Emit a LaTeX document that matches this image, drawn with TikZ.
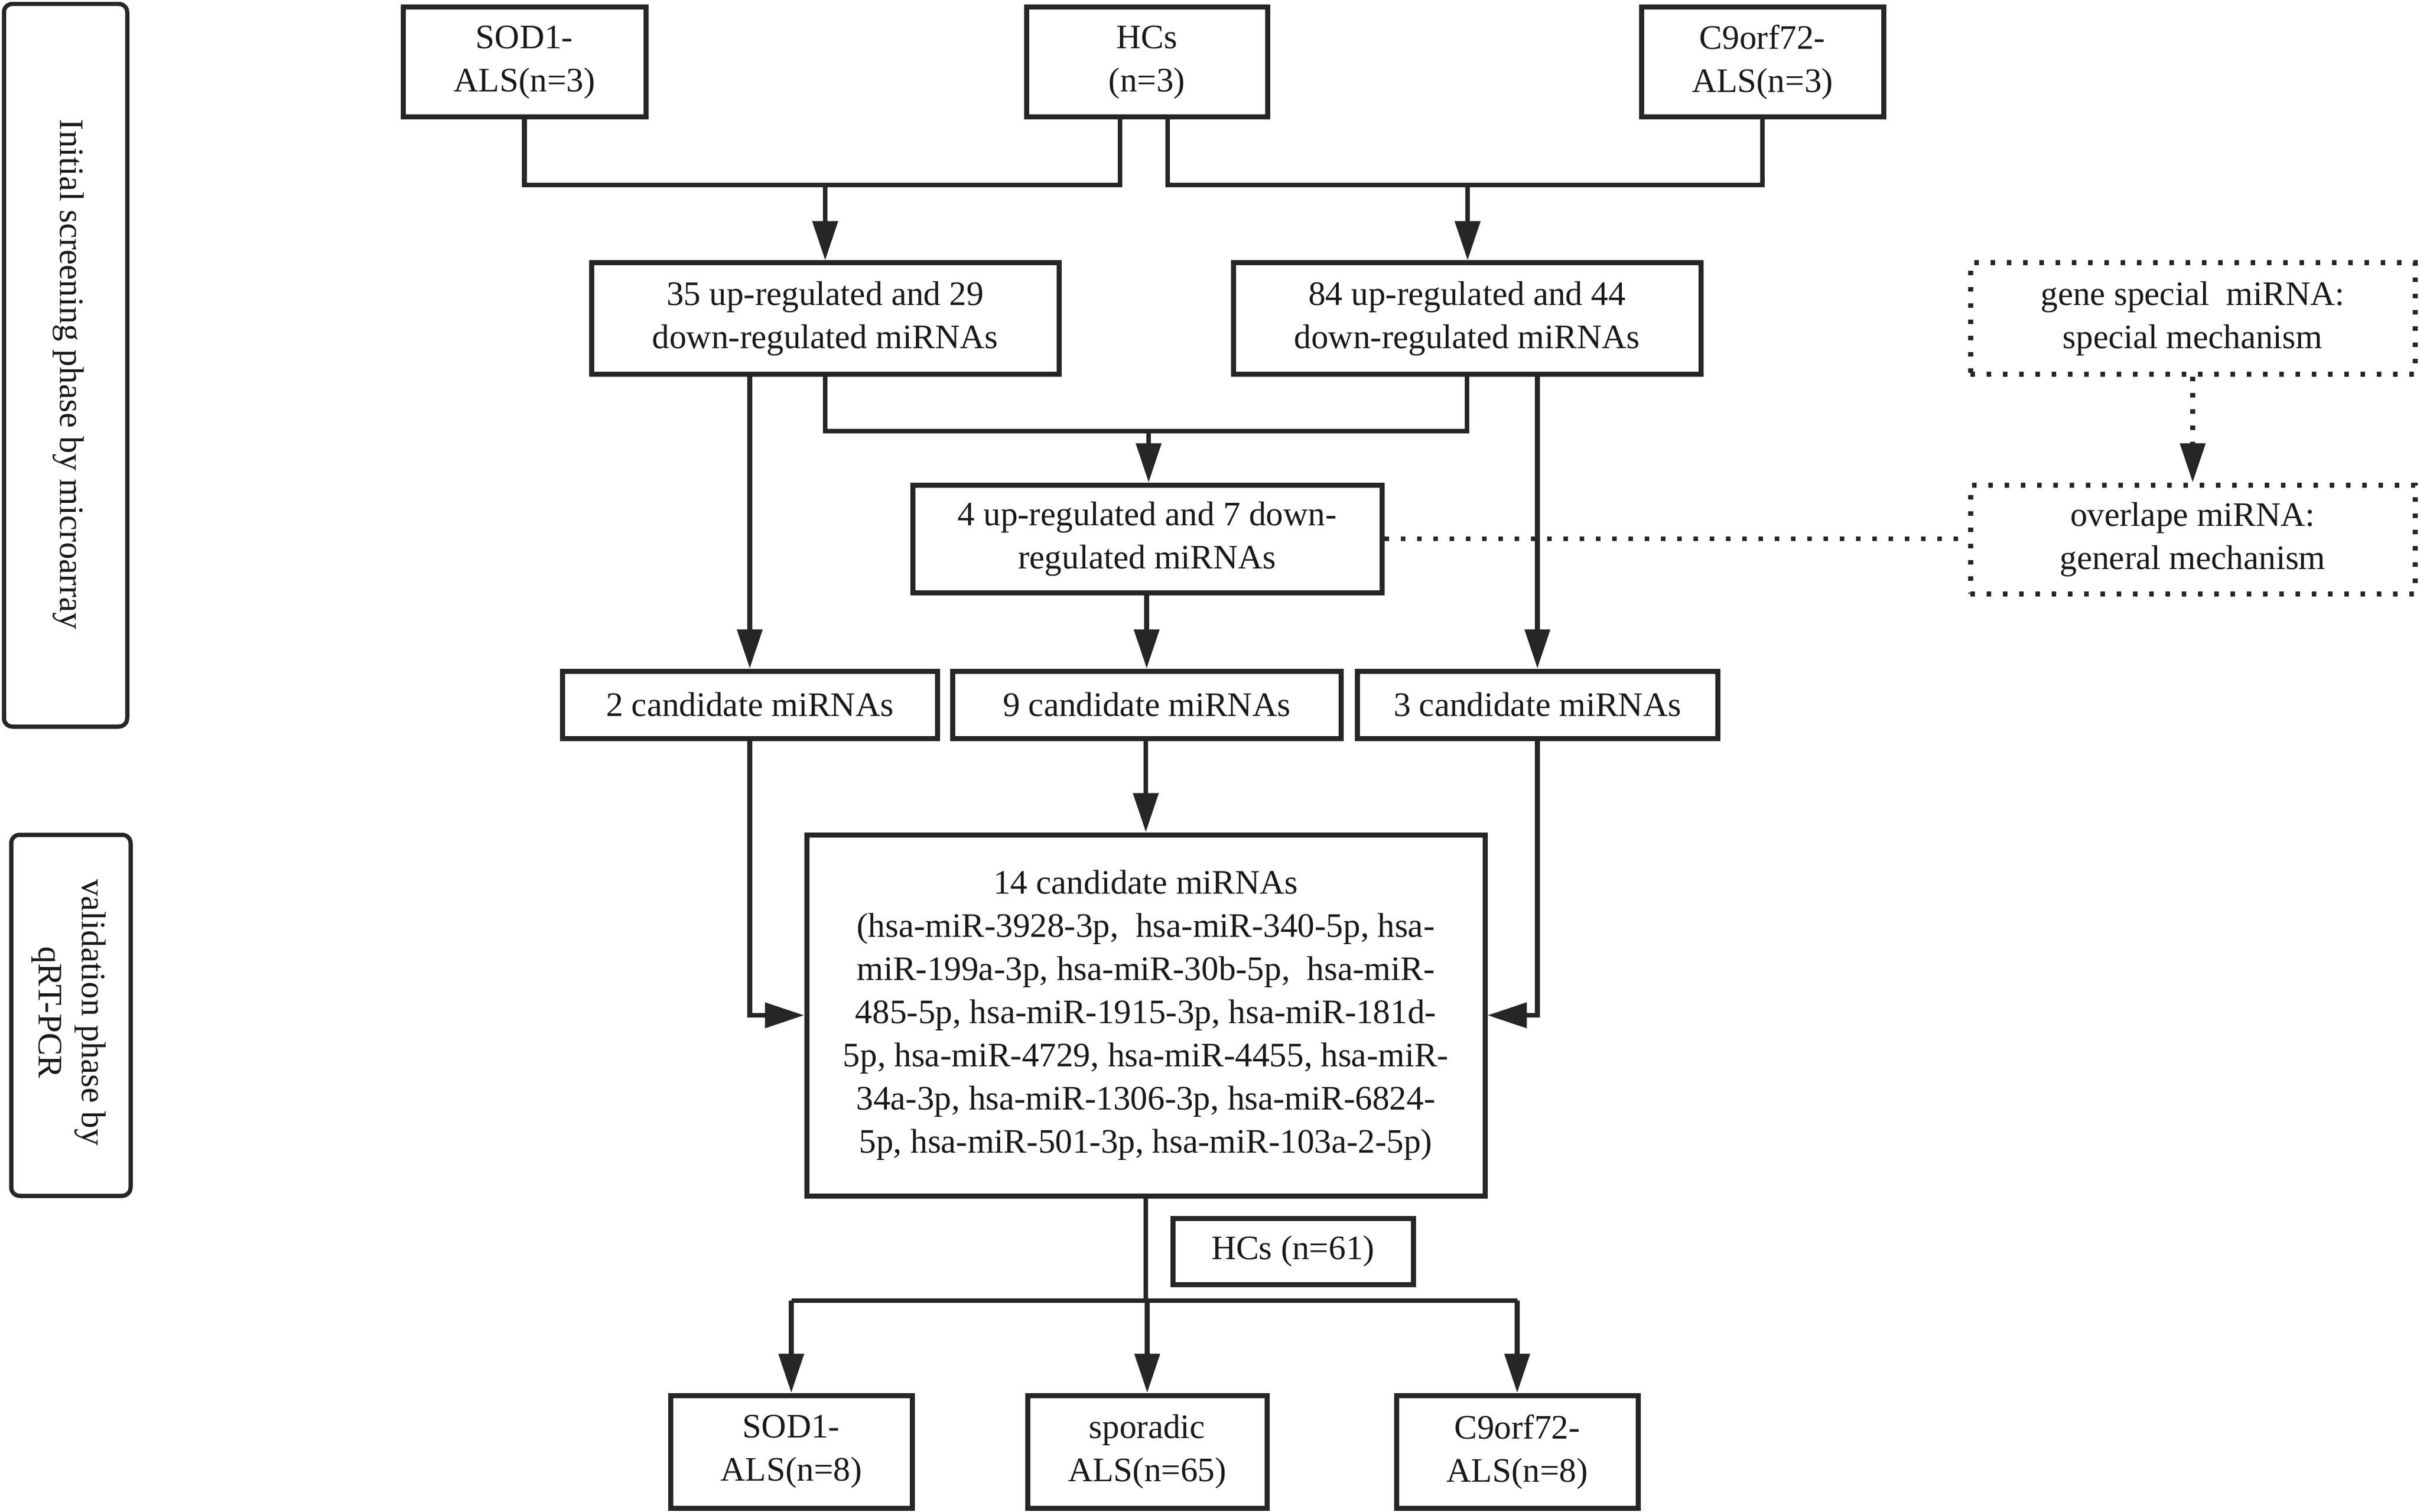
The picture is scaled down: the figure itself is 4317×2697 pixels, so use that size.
\documentclass[tikz,border=0pt]{standalone}
\usepackage{fontspec}
\setmainfont{Liberation Serif}
\usetikzlibrary{arrows.meta,calc}
\begin{document}
\begin{tikzpicture}[x=0.1mm,y=-0.1mm,
  txt/.style={font=\fontsize{17.4}{21.9}\selectfont, text=black!90, align=center},
  box/.style={txt, draw=black!85, line width=0.9mm, inner sep=0pt},
  dotbox/.style={box, dash pattern=on 0.8mm off 2.1mm},
  sidebox/.style={draw=black!85, line width=0.75mm, rounded corners=1.5mm, inner sep=0pt},
  conn/.style={draw=black!85, line width=0.85mm},
  dotconn/.style={conn, dash pattern=on 0.8mm off 2.1mm},
  arr/.style={conn, -{Triangle[length=7mm,width=4.4mm]}},
  dotarr/.style={dotconn, -{Triangle[length=7mm,width=4.4mm]}},
]
\useasboundingbox (0,0) rectangle (4317,2697);

% side labels
\node[sidebox, minimum width=22mm, minimum height=128.9mm] (init) at (117,651.5) {};
\node[txt, rotate=-90] (initT) at (122,668) {Initial screening phase by microarray};
\node[sidebox, minimum width=21.3mm, minimum height=64.4mm] (valid) at (126.5,1811) {};
\node[txt, rotate=-90] (validT) at (123,1806) {validation phase by\\qRT-PCR};

% top row
\node[box, minimum width=43.3mm, minimum height=19.6mm] (sodA) at (935.5,111) {SOD1-\\ALS(n=3)};
\node[box, minimum width=43.0mm, minimum height=19.6mm] (hcA) at (2046,111) {HCs\\(n=3)};
\node[box, minimum width=43.2mm, minimum height=19.6mm] (c9A) at (3144,111) {C9orf72-\\ALS(n=3)};

% second row
\node[box, minimum width=83.4mm, minimum height=19.8mm] (up35) at (1472,568) {35 up-regulated and 29\\down-regulated miRNAs};
\node[box, minimum width=83.4mm, minimum height=19.8mm] (up84) at (2617,568) {84 up-regulated and 44\\down-regulated miRNAs};
\node[dotbox, minimum width=79.3mm, minimum height=19.8mm] (gene) at (3911.5,568) {gene special\ \ miRNA:\\special mechanism};

% third row
\node[box, minimum width=83.7mm, minimum height=19.2mm] (up4) at (2046.5,961) {4 up-regulated and 7 down-\\regulated miRNAs};
\node[dotbox, minimum width=79.3mm, minimum height=19.4mm] (overl) at (3911.5,962) {overlape miRNA:\\general mechanism};

% candidates
\node[box, minimum width=66.9mm, minimum height=12.0mm] (c2) at (1337.5,1257) {2 candidate miRNAs};
\node[box, minimum width=69.3mm, minimum height=12.0mm] (c9) at (2045.5,1257) {9 candidate miRNAs};
\node[box, minimum width=64.3mm, minimum height=12.0mm] (c3) at (2742.5,1257) {3 candidate miRNAs};

% big box
\node[box, minimum width=121.0mm, minimum height=64.4mm] (m14) at (2044,1811) {14 candidate miRNAs\\(hsa-miR-3928-3p,\ \ hsa-miR-340-5p, hsa-\\miR-199a-3p, hsa-miR-30b-5p,\ \ hsa-miR-\\485-5p, hsa-miR-1915-3p, hsa-miR-181d-\\5p, hsa-miR-4729, hsa-miR-4455, hsa-miR-\\34a-3p, hsa-miR-1306-3p, hsa-miR-6824-\\5p, hsa-miR-501-3p, hsa-miR-103a-2-5p)};

\node[box, minimum width=42.9mm, minimum height=11.8mm] (hc61) at (2306.5,2232) {HCs (n=61)};

% bottom row
\node[box, minimum width=43.1mm, minimum height=20.1mm] (sodB) at (1411.5,2589.5) {SOD1-\\ALS(n=8)};
\node[box, minimum width=42.7mm, minimum height=20.1mm] (spor) at (2046.5,2589.5) {sporadic\\ALS(n=65)};
\node[box, minimum width=43.1mm, minimum height=20.1mm] (c9B) at (2706.5,2589.5) {C9orf72-\\ALS(n=8)};

% connectors top
\coordinate (j1) at (1472,330);
\coordinate (j2) at (2618,330);
\coordinate (hcAl) at ($(hcA.south)+(-48,0)$);
\coordinate (hcAr) at ($(hcA.south)+(37,0)$);
\draw[conn] (sodA.south) -- (sodA.south |- j1) -- (hcAl |- j1) -- (hcAl);
\draw[arr] (j1) -- (up35.north);
\draw[conn] (hcAr) -- (hcAr |- j2) -- (c9A.south |- j2) -- (c9A.south);
\draw[arr] (j2) -- (j2 |- up84.north);

% second level
\coordinate (j3) at (2049,769);
\draw[arr] (c2.north |- up35.south) -- (c2.north);
\draw[conn] (up35.south) -- (up35.south |- j3) -- (up84.south |- j3) -- (up84.south);
\draw[arr] (j3) -- (j3 |- up4.north);
\draw[arr] (c3.north |- up84.south) -- (c3.north);
\draw[arr] (c9.north |- up4.south) -- (c9.north);

% dotted
\draw[dotconn] (up4.east) -- (up4.east -| overl.west);
\draw[dotarr] (gene.south) -- (overl.north);

% candidates to 14
\draw[arr] (c2.south) |- (m14.west);
\draw[arr] (m14.north |- c9.south) -- (m14.north);
\draw[arr] (c3.south) |- (m14.east);

% bottom
\coordinate (j4) at (2046,2320);
\draw[conn] (m14.south) -- (m14.south |- j4);
\draw[conn] (sodB.north |- j4) -- (c9B.north |- j4);
\draw[arr] (sodB.north |- j4) -- (sodB.north);
\draw[arr] (spor.north |- j4) -- (spor.north);
\draw[arr] (c9B.north |- j4) -- (c9B.north);
\end{tikzpicture}
\end{document}
